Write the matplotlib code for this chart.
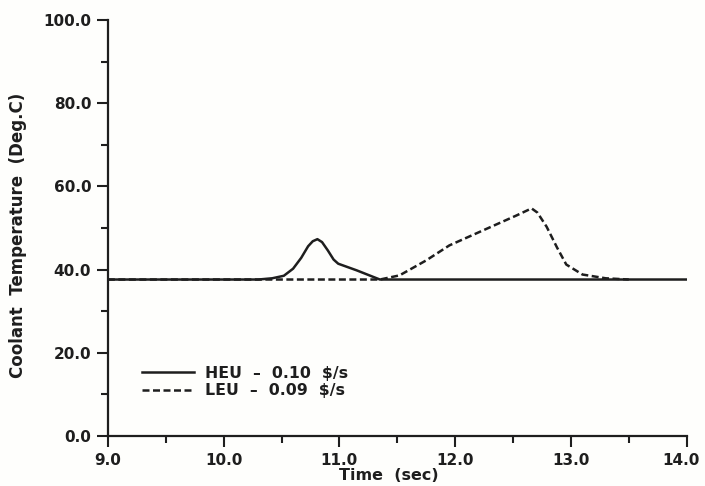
import matplotlib
matplotlib.use('Agg')
import matplotlib.pyplot as plt
import matplotlib.transforms as mtransforms
from matplotlib.ticker import MultipleLocator, FormatStrFormatter

# HEU - 0.10 $/s
heu_time = [9.0, 10.3, 10.42, 10.52, 10.6, 10.67, 10.73, 10.77, 10.81, 10.85, 10.9, 10.95, 10.99, 11.15, 11.35, 14.0]
heu_temp = [37.6, 37.6, 37.9, 38.5, 40.2, 42.8, 45.6, 46.8, 47.3, 46.6, 44.6, 42.4, 41.4, 39.8, 37.6, 37.6]

# LEU - 0.09 $/s
leu_time = [9.0, 11.35, 11.52, 11.75, 11.95, 12.24, 12.53, 12.66, 12.71, 12.79, 12.88, 12.96, 13.1, 13.3, 13.5]
leu_temp = [37.6, 37.6, 38.6, 42.2, 45.8, 49.4, 53.0, 54.7, 53.7, 50.3, 45.3, 41.2, 38.8, 37.9, 37.6]

legend_labels = ['HEU  \u2013  0.10  $/s', 'LEU  \u2013  0.09  $/s']

plt.rcParams['font.family'] = ['DejaVu Sans']
fig = plt.figure(figsize=(7.05, 4.86), dpi=100)
fig.patch.set_facecolor('#fefefc')
ax = fig.add_axes([0.153, 0.103, 0.821, 0.856])
ax.set_facecolor('none')

ink = '#1e1e1e'
ax.plot(heu_time, heu_temp, color=ink, lw=1.8, label=legend_labels[0])
ax.plot(leu_time, leu_temp, color=ink, lw=1.8, linestyle=(0, (2.8, 1.4)), label=legend_labels[1])

ax.set_xlim(9.0, 14.0)
ax.set_ylim(0.0, 100.0)
ax.xaxis.set_major_locator(MultipleLocator(1.0))
ax.xaxis.set_minor_locator(MultipleLocator(0.5))
ax.yaxis.set_major_locator(MultipleLocator(20.0))
ax.yaxis.set_minor_locator(MultipleLocator(10.0))
ax.xaxis.set_major_formatter(FormatStrFormatter('%.1f'))
ax.yaxis.set_major_formatter(FormatStrFormatter('%.1f'))

for s in ['top', 'right']:
    ax.spines[s].set_visible(False)
for s in ['left', 'bottom']:
    ax.spines[s].set_linewidth(1.6)
    ax.spines[s].set_color(ink)

ax.tick_params(which='major', length=8, width=1.5, color=ink, labelsize=11, pad=4)
ax.tick_params(which='minor', length=5, width=1.5, color=ink)
for lab in ax.get_xticklabels() + ax.get_yticklabels():
    lab.set_fontweight('bold')
    lab.set_color(ink)

# the 14.0 label sits a little left of its tick, as in the original
fig.canvas.draw()
for lab in ax.get_xticklabels():
    if lab.get_text() == '14.0':
        lab.set_transform(lab.get_transform() + mtransforms.ScaledTranslation(-6 / 100, 0, fig.dpi_scale_trans))

ax.set_xlabel('Time  (sec)', fontsize=11.5, fontweight='bold', color=ink)
ax.set_ylabel('Coolant  Temperature  (Deg.C)', fontsize=12, fontweight='bold', color=ink)
ax.xaxis.set_label_coords(0.485, -0.077)
ax.yaxis.set_label_coords(-0.14, 0.482)

leg = ax.legend(loc='lower left', bbox_to_anchor=(0.035, 0.057), frameon=False,
                handlelength=3.3, fontsize=11.3, labelspacing=0.15, handletextpad=0.7)
for t in leg.get_texts():
    t.set_fontweight('bold')
    t.set_color(ink)

fig.savefig('out.png', dpi=100, facecolor=fig.get_facecolor())
